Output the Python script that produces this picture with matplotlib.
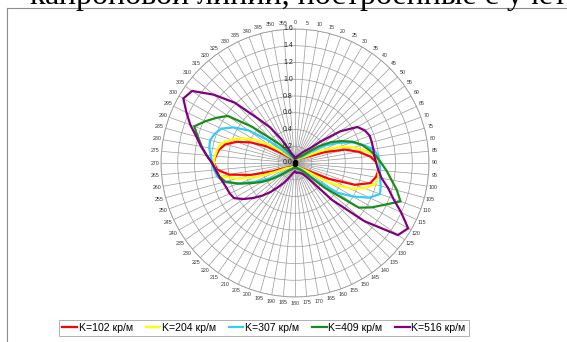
import numpy as np
import matplotlib.pyplot as plt
from matplotlib.lines import Line2D

# angles of the radar categories, degrees (clockwise from top)
angles = np.arange(0, 360, 5)

series_names = ['K=102 кр/м', 'K=204 кр/м', 'K=307 кр/м', 'K=409 кр/м', 'K=516 кр/м']
series_colors = ['#ff0000', '#ffff00', '#33ccff', '#1a8c1a', '#800080']

k102 = [0.04, 0.04, 0.04, 0.04, 0.05, 0.05, 0.05, 0.06, 0.07, 0.08, 0.09, 0.11,
        0.14, 0.20, 0.38, 0.62, 0.77, 0.90, 0.98, 1.00, 0.98, 0.93, 0.76, 0.45,
        0.20, 0.13, 0.10, 0.08, 0.07, 0.06, 0.05, 0.05, 0.04, 0.04, 0.04, 0.04,
        0.04, 0.04, 0.04, 0.04, 0.05, 0.05, 0.05, 0.06, 0.06, 0.07, 0.08, 0.09,
        0.11, 0.16, 0.30, 0.55, 0.80, 0.93, 0.97, 0.95, 0.92, 0.86, 0.74, 0.58,
        0.40, 0.22, 0.13, 0.10, 0.08, 0.07, 0.06, 0.05, 0.05, 0.04, 0.04, 0.04]
k204 = [0.04, 0.04, 0.04, 0.05, 0.05, 0.05, 0.06, 0.06, 0.07, 0.08, 0.10, 0.12,
        0.18, 0.35, 0.57, 0.72, 0.85, 0.96, 0.99, 1.00, 1.01, 0.99, 0.88, 0.72,
        0.47, 0.16, 0.11, 0.09, 0.07, 0.06, 0.06, 0.05, 0.05, 0.04, 0.04, 0.04,
        0.04, 0.04, 0.04, 0.05, 0.05, 0.05, 0.06, 0.06, 0.07, 0.08, 0.09, 0.10,
        0.13, 0.24, 0.50, 0.72, 0.90, 0.95, 0.97, 0.96, 0.94, 0.91, 0.81, 0.70,
        0.55, 0.38, 0.22, 0.13, 0.10, 0.08, 0.07, 0.06, 0.05, 0.05, 0.04, 0.04]
k307 = [0.05, 0.05, 0.05, 0.05, 0.06, 0.06, 0.07, 0.08, 0.09, 0.10, 0.13, 0.24,
        0.42, 0.57, 0.72, 0.84, 0.95, 1.00, 1.01, 1.02, 1.03, 1.06, 1.08, 0.98,
        0.80, 0.62, 0.30, 0.12, 0.09, 0.08, 0.07, 0.06, 0.06, 0.05, 0.05, 0.05,
        0.05, 0.05, 0.05, 0.06, 0.06, 0.07, 0.08, 0.09, 0.10, 0.13, 0.19, 0.28,
        0.38, 0.53, 0.72, 0.88, 0.94, 0.97, 0.99, 1.01, 1.04, 1.05, 1.02, 0.97,
        0.85, 0.68, 0.43, 0.24, 0.14, 0.10, 0.08, 0.07, 0.06, 0.06, 0.05, 0.05]
k409 = [0.05, 0.05, 0.06, 0.06, 0.07, 0.07, 0.08, 0.09, 0.10, 0.13, 0.20, 0.35,
        0.50, 0.62, 0.74, 0.83, 0.90, 0.97, 1.03, 1.10, 1.17, 1.26, 1.34, 1.18,
        1.06, 0.93, 0.45, 0.15, 0.11, 0.09, 0.08, 0.07, 0.07, 0.06, 0.06, 0.05,
        0.05, 0.05, 0.06, 0.06, 0.07, 0.08, 0.09, 0.10, 0.12, 0.16, 0.23, 0.33,
        0.45, 0.57, 0.72, 0.86, 0.92, 0.95, 0.99, 1.06, 1.13, 1.20, 1.28, 1.18,
        1.08, 0.98, 0.68, 0.42, 0.30, 0.21, 0.15, 0.11, 0.08, 0.07, 0.06, 0.05]
k516 = [0.06, 0.06, 0.07, 0.08, 0.09, 0.10, 0.12, 0.15, 0.19, 0.24, 0.40, 0.66,
        0.86, 0.92, 0.95, 0.95, 0.95, 0.95, 0.97, 1.00, 1.05, 1.15, 1.25, 1.40,
        1.56, 1.50, 1.08, 0.62, 0.22, 0.16, 0.14, 0.13, 0.12, 0.12, 0.12, 0.11,
        0.10, 0.11, 0.12, 0.14, 0.17, 0.22, 0.28, 0.35, 0.45, 0.55, 0.65, 0.75,
        0.84, 0.86, 0.87, 0.89, 0.92, 0.95, 0.99, 1.06, 1.14, 1.22, 1.33, 1.43,
        1.54, 1.50, 1.27, 1.02, 0.70, 0.52, 0.33, 0.19, 0.12, 0.10, 0.09, 0.07]
all_series = [k102, k204, k307, k409, k516]

r_ticks = [0.0, 0.2, 0.4, 0.6, 0.8, 1.0, 1.2, 1.4, 1.6]

header = 'капроновой линии, построенные с учетом'

fig = plt.figure(figsize=(5.67, 3.42), dpi=100)
fig.patch.set_facecolor('white')

# cut-off line of document text above the chart
fig.text(30 / 567, 1 - 4 / 342, header, family='Liberation Serif', fontsize=23,
         va='baseline', ha='left', color='black')

# chart area border (continues beyond the picture)
grey = '#8c8c8c'
fig.add_artist(Line2D([7 / 567, 1.0], [1 - 8 / 342, 1 - 8 / 342], color=grey, lw=0.8,
                      transform=fig.transFigure))
fig.add_artist(Line2D([7 / 567, 7 / 567], [0.0, 1 - 8 / 342], color=grey, lw=0.8,
                      transform=fig.transFigure))

cx, cy, rad = 295, 163, 134
ax = fig.add_axes([(cx - rad) / 567, (342 - cy - rad) / 342, 2 * rad / 567, 2 * rad / 342],
                  projection='polar')
ax.set_theta_zero_location('N')
ax.set_theta_direction(-1)
ax.set_ylim(0, 1.6)

ax.set_thetagrids(angles, [str(a) for a in angles], fontsize=3.8, color='#333333',
                  family='Liberation Sans')
ax.tick_params(axis='x', pad=-2.5, length=0)
ax.set_yticks(r_ticks)
ax.set_yticklabels([])
for r in r_ticks:
    ax.annotate(f'{r:.1f}', xy=(0, r), xytext=(-1.5, 0), textcoords='offset points',
                ha='right', va='center', fontsize=5, color='#222222',
                family='Liberation Sans')
ax.grid(color='#9a9a9a', lw=0.5)
ax.spines['polar'].set_color('#9a9a9a')
ax.spines['polar'].set_linewidth(0.6)

theta = np.deg2rad(np.append(angles, angles[0]))
handles = []
for vals, col, name in zip(all_series, series_colors, series_names):
    rr = np.append(vals, vals[0])
    ln, = ax.plot(theta, rr, color=col, lw=1.6, label=name, solid_joinstyle='miter')
    handles.append(ln)

# small black marker at the centre, as in the original
ax.plot([0], [0], marker='s', ms=2.5, color='black')

leg = fig.legend(handles=handles, loc='center', ncol=5,
                 bbox_to_anchor=(264 / 567, 1 - 328 / 342),
                 prop={'family': 'Liberation Sans', 'size': 7.6},
                 handlelength=1.4, handletextpad=0.15, columnspacing=1.2,
                 borderpad=0.3, fancybox=False, frameon=True)
leg.get_frame().set_edgecolor(grey)
leg.get_frame().set_linewidth(0.6)

fig.savefig('out.png', dpi=100)
